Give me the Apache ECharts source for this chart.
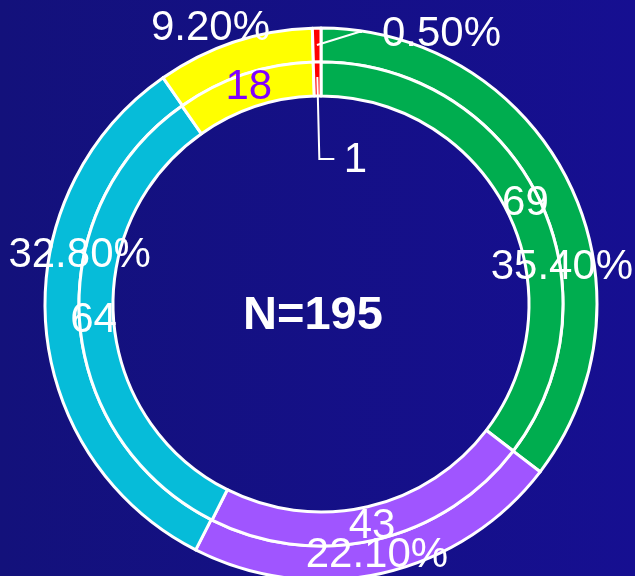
<!DOCTYPE html>
<html>
<head>
<meta charset="utf-8">
<script src="https://cdn.jsdelivr.net/npm/echarts@6/dist/echarts.min.js"></script>
<style>
  html, body { margin: 0; padding: 0; background: #13117c; }
  #chart { width: 635px; height: 576px; }
</style>
</head>
<body>
<div id="chart"></div>
<script>
// Segment data, clockwise from 12 o'clock
const segments = ['S1', 'S2', 'S3', 'S4', 'S5'];
const counts = [69, 43, 64, 18, 1];              // inner ring: number of cases
const percents = [35.4, 22.1, 32.8, 9.2, 0.5];   // outer ring: share in %
const totalN = 195;
const colors = ['#00ad4f', '#a055ff', '#06bcd9', '#ffff00', '#ff0000'];
const countLabelColors = ['#ffffff', '#ffffff', '#ffffff', '#7f00ff', '#ffffff'];

// Ring geometry
const CENTER = [321, 304];
const R_IN = [208, 242];
const R_OUT = [242, 276];
const FONT = '"Liberation Sans", Arial, sans-serif';

// Nudges for the percentage labels of the outer ring
const outerShift = [[6, 79], [-2, -4], [20, -67], [-28, -27], [0, 0]];
const lastIdx = counts.length - 1;

// point on the ray from the centre through p, scaled to radius ratio k
function along(p, k) {
  return [CENTER[0] + (p[0] - CENTER[0]) * k, CENTER[1] + (p[1] - CENTER[1]) * k];
}
function anchorOf(params) {
  if (params.labelLinePoints && params.labelLinePoints[0]) {
    return params.labelLinePoints[0].slice();
  }
  const r = params.rect;
  return [r.x + r.width / 2, r.y];
}

const baseLabel = {
  fontFamily: FONT,
  fontSize: 42,
  color: '#ffffff',
  textBorderWidth: 0,
  textShadowBlur: 0
};

const leaderLine = {
  show: true,
  minTurnAngle: 0,
  maxSurfaceAngle: 180,
  lineStyle: { color: '#ffffff', width: 2 }
};

// the small last slice of each ring gets its label from a callout layer
function ringData(values, labelColors) {
  return values.map((v, i) => ({
    name: segments[i], value: v,
    itemStyle: { color: colors[i] },
    label: { show: i !== lastIdx, color: labelColors ? labelColors[i] : '#ffffff' }
  }));
}
// invisible copy of a ring, drawn on top, carrying the callout of the last slice
function calloutData(values) {
  return values.map((v, i) => ({
    name: segments[i], value: v,
    label: { show: i === lastIdx },
    labelLine: i === lastIdx ? leaderLine : { show: false }
  }));
}

const ringBase = {
  type: 'pie',
  center: CENTER,
  startAngle: 90,
  clockwise: true,
  avoidLabelOverlap: false,
  silent: true
};

const chart = echarts.init(document.getElementById('chart'), null, { renderer: 'canvas' });

chart.setOption({
  backgroundColor: {
    type: 'linear', x: 0, y: 0, x2: 1, y2: 0,
    colorStops: [
      { offset: 0, color: '#13117b' },
      { offset: 1, color: '#160f91' }
    ]
  },
  animation: false,
  series: [
    Object.assign({}, ringBase, {
      name: 'percent',
      radius: R_OUT,
      itemStyle: { borderColor: '#ffffff', borderWidth: 3 },
      label: Object.assign({}, baseLabel, {
        position: 'inside',
        formatter: p => p.value.toFixed(2) + '%'
      }),
      labelLine: { show: false },
      labelLayout: function (p) {
        const off = outerShift[p.dataIndex];
        return { dx: off[0], dy: off[1] };
      },
      data: ringData(percents)
    }),
    Object.assign({}, ringBase, {
      name: 'count',
      radius: R_IN,
      itemStyle: { borderColor: '#ffffff', borderWidth: 3 },
      label: Object.assign({}, baseLabel, {
        position: 'inside',
        formatter: '{c}'
      }),
      labelLine: { show: false },
      data: ringData(counts, countLabelColors)
    }),
    Object.assign({}, ringBase, {
      name: 'percent-callout',
      z: 4,
      radius: R_OUT,
      itemStyle: { color: 'rgba(0,0,0,0)', borderWidth: 0 },
      label: Object.assign({}, baseLabel, {
        position: 'outside',
        formatter: p => p.value.toFixed(2) + '%'
      }),
      labelLayout: function (p) {
        if (p.dataIndex !== lastIdx) return {};
        const a = anchorOf(p);
        const s = along(a, (R_OUT[0] + R_OUT[1]) / 2 / R_OUT[1]);
        const bend = [s[0] + 42, s[1] - 13];
        const end = [bend[0] + 3, bend[1]];
        return {
          x: bend[0] + 23, y: bend[1] + 2,
          align: 'left', verticalAlign: 'middle',
          labelLinePoints: [s, bend, end]
        };
      },
      data: calloutData(percents)
    }),
    Object.assign({}, ringBase, {
      name: 'count-callout',
      z: 4,
      radius: R_IN,
      itemStyle: { color: 'rgba(0,0,0,0)', borderWidth: 0 },
      label: Object.assign({}, baseLabel, {
        position: 'outside',
        formatter: '{c}'
      }),
      labelLayout: function (p) {
        if (p.dataIndex !== lastIdx) return {};
        const a = anchorOf(p);
        const s = along(a, 227 / R_IN[1]);
        const down = [s[0] + 2, CENTER[1] - 145];
        const end = [down[0] + 15, down[1]];
        return {
          x: end[0] + 21, y: end[1] + 1,
          align: 'center', verticalAlign: 'middle',
          labelLinePoints: [s, down, end]
        };
      },
      data: calloutData(counts)
    })
  ],
  graphic: [
    {
      type: 'text',
      left: 314 - 71,
      top: 319 - 26,
      style: {
        text: 'N=' + totalN,
        fill: '#ffffff',
        font: 'bold 47px ' + FONT
      }
    }
  ]
});
</script>
</body>
</html>
